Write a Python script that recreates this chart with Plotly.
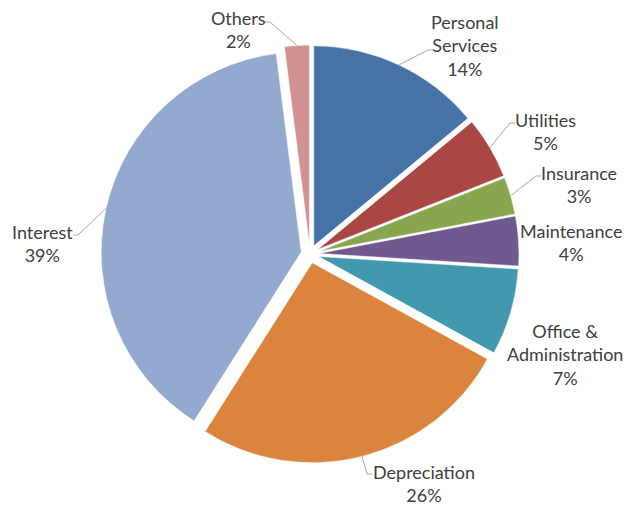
import math
import plotly.graph_objects as go

# ---- data ----
categories = ["Personal<br>Services", "Utilities", "Insurance", "Maintenance",
              "Office &<br>Administration", "Depreciation", "Interest", "Others"]
values = [14, 5, 3, 4, 7, 26, 39, 2]
colors = ["#4572A7", "#AA4643", "#89A54E", "#71588F",
          "#4198AF", "#DB843D", "#93A9CF", "#D19392"]

# ---- layout constants ----
W, H = 635, 506
CX, CY = 310, 254          # pie centre (px)
R = 200                    # pie radius (px)
PULL = 0.045
# label block centre (px) and leader elbow (px, or None)
label_pos = [(465, 45), (545, 131), (579, 184), (571, 242),
             (565, 354), (424, 483), (42, 243), (238, 30)]
leader_elbow = [(428, 50), (510, 123), (536, 176), None,
                None, (367, 474), (78, 235), (270, 22)]

def px(x):
    return x / W

def py(y):
    return 1 - y / H

D = 2 * R * (1 + PULL)
fig = go.Figure(go.Pie(
    labels=categories, values=values, sort=False, direction="clockwise",
    rotation=0, pull=[PULL] * len(values), textinfo="none", hoverinfo="label+percent",
    marker=dict(colors=colors, line=dict(color="white", width=0.5)),
    domain=dict(x=[px(CX - D / 2), px(CX + D / 2)], y=[py(CY + D / 2), py(CY - D / 2)]),
    showlegend=False,
))

total = sum(values)
cum = 0
annotations, shapes = [], []
for i, (cat, v) in enumerate(zip(categories, values)):
    mid = (cum + v / 2) / total * 2 * math.pi
    cum += v
    pct = round(v / total * 100)
    lx, ly = label_pos[i]
    annotations.append(dict(
        x=px(lx), y=py(ly), xref="paper", yref="paper", showarrow=False,
        text=f"{cat}<br>{pct}%", xanchor="center", yanchor="middle",
        font=dict(family="Lato, 'Open Sans', sans-serif", size=18, color="#404040"),
    ))
    if leader_elbow[i] is not None:
        ex, ey = leader_elbow[i]
        sx = CX + R * (1 + PULL) * math.sin(mid)
        sy = CY - R * (1 + PULL) * math.cos(mid)
        hx = ex - 5 if sx > ex else ex + 5
        shapes.append(dict(
            type="path", xref="paper", yref="paper",
            path=f"M {px(hx)},{py(ey)} L {px(ex)},{py(ey)} L {px(sx)},{py(sy)}",
            line=dict(color="#A6A6A6", width=1),
        ))

fig.update_layout(
    width=W, height=H, margin=dict(l=0, r=0, t=0, b=0),
    paper_bgcolor="white", plot_bgcolor="white",
    annotations=annotations, shapes=shapes,
)
fig.write_html("out.html", config={"displayModeBar": False},
               post_script="document.body.style.margin='0';")
